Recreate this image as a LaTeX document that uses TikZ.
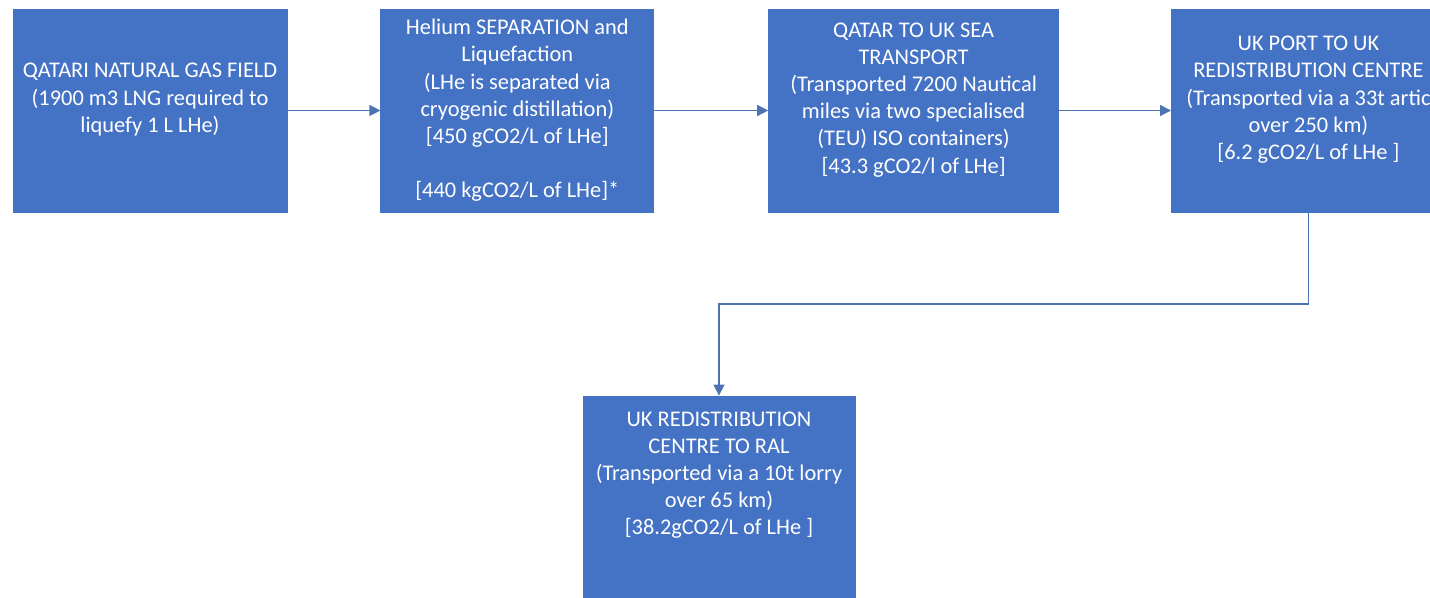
\documentclass[tikz,border=0pt]{standalone}
\usepackage{fontspec}
\setmainfont{Carlito}
\usepackage{xcolor}
\usetikzlibrary{arrows.meta, positioning, calc}
\definecolor{stageblue}{HTML}{4472C4}
\definecolor{linkblue}{HTML}{4E73B4}
\tikzset{
  stagebox/.style={
    rectangle, draw=stageblue, line width=0.4pt, fill=stageblue,
    text=white, align=center, inner sep=2pt,
    font=\fontsize{11.2}{13.6}\selectfont,
    minimum width=137pt, minimum height=101.5pt
  },
  link/.style={-{Triangle[length=5.5pt,width=5.5pt]}, line width=0.75pt, draw=linkblue}
}
\newcommand{\spareline}{\\[-5pt]\strut}

\begin{document}
\begin{tikzpicture}
\useasboundingbox (0pt,0pt) rectangle (715pt,-299pt);

\node[stagebox] (field) at (75pt,-55.25pt)
  {QATARI NATURAL GAS FIELD\\
   (1900 m3 LNG required to\\
   liquefy 1 L LHe)\spareline};
\node[stagebox, right=46.5pt of field, minimum width=136.5pt] (sep)
  {Helium SEPARATION and\\
   Liquefaction\\
   (LHe is separated via\\
   cryogenic distillation)\\
   {[}450 gCO2/L of LHe{]}\\ \strut\\
   {[}440 kgCO2/L of LHe{]}*};
\node[stagebox, right=57pt of sep, minimum width=145pt] (sea)
  {QATAR TO UK SEA\\
   TRANSPORT\\
   (Transported 7200 Nautical\\
   miles via two specialised\\
   (TEU) ISO containers)\\
   {[}43.3 gCO2/l of LHe{]}\spareline};
\node[stagebox, right=56pt of sea] (port)
  {UK PORT TO UK\\
   REDISTRIBUTION CENTRE\\
   (Transported via a 33t artic\\
   over 250 km)\\
   {[}6.2 gCO2/L of LHe {]}\spareline};
\node[stagebox, minimum width=136pt] (ral) at (359.5pt,-248.75pt)
  {UK REDISTRIBUTION\\
   CENTRE TO RAL\\
   (Transported via a 10t lorry\\
   over 65 km)\\
   {[}38.2gCO2/L of LHe {]}\spareline\\[-2pt]\strut};

\coordinate (elbow) at ($(port.south)!0.5!(ral.north)$);

\draw[link] (field) -- (sep);
\draw[link] (sep) -- (sea);
\draw[link] (sea) -- (port);
\draw[link] (port.south) |- (elbow) -| (ral.north);

\end{tikzpicture}
\end{document}
